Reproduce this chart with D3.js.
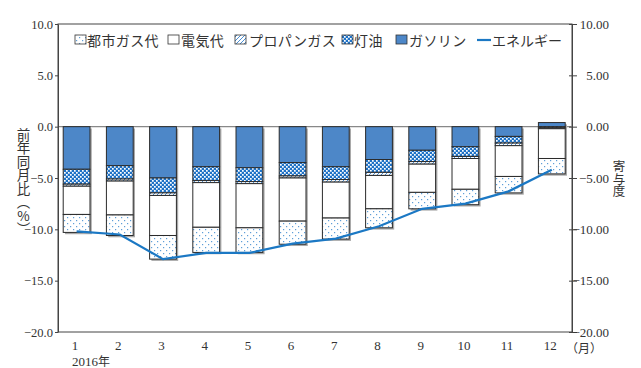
<!DOCTYPE html>
<html>
<head>
<meta charset="utf-8">
<script src="https://cdn.jsdelivr.net/npm/d3@7"></script>
<style>
  html, body { margin: 0; padding: 0; background: #fff; }
  svg { display: block; }
  .num { font-family: "Liberation Serif", "DejaVu Serif", serif; fill: #333; }
  .jp { font-family: "Noto Sans CJK JP", sans-serif; fill: #333; }
  .vert { writing-mode: vertical-rl; text-orientation: upright; }
</style>
</head>
<body>
<svg id="chart" width="641" height="368"></svg>
<script>
// Months (2016)
const months = ["1","2","3","4","5","6","7","8","9","10","11","12"];

// Contributions by item (percentage points)
const gasoline    = [-4.15, -3.8, -5.0, -3.9, -4.0, -3.5, -3.9, -3.2, -2.3, -1.95, -0.95, 0.4];
const kerosene    = [-1.45, -1.3, -1.45, -1.35, -1.35, -1.3, -1.25, -1.25, -1.1, -0.95, -0.65, -0.1];
const propane     = [-0.2, -0.2, -0.25, -0.2, -0.2, -0.2, -0.25, -0.3, -0.25, -0.2, -0.25, -0.1];
const electricity = [-2.75, -3.3, -3.9, -4.35, -4.3, -4.2, -3.5, -3.25, -2.75, -3.0, -3.0, -2.9];
const cityGas     = [-1.75, -2.0, -2.3, -2.45, -2.4, -2.25, -2.05, -1.85, -1.6, -1.5, -1.6, -1.5];

// Energy total (year-on-year %)
const energy = [-10.2, -10.5, -12.9, -12.3, -12.3, -11.4, -10.9, -9.7, -8.0, -7.5, -6.3, -4.2];

// Axis ticks
const leftTicks  = [10, 5, 0, -5, -10, -15, -20];
const rightTicks = [10, 5, 0, -5, -10, -15, -20];

// Series names (stack order: nearest zero first)
const seriesKeys  = ["gasoline", "kerosene", "propane", "electricity", "cityGas"];
const seriesNames = { cityGas: "都市ガス代", electricity: "電気代", propane: "プロパンガス",
                      kerosene: "灯油", gasoline: "ガソリン" };
const lineName = "エネルギー";

const rows = months.map((m, i) => ({
  month: m,
  gasoline: gasoline[i], kerosene: kerosene[i], propane: propane[i],
  electricity: electricity[i], cityGas: cityGas[i]
}));

const svg = d3.select("#chart");
const plot = { left: 58, right: 572, top: 24, bottom: 332 };

// Patterns
const defs = svg.append("defs");
const dots = defs.append("pattern").attr("id", "p-citygas")
  .attr("patternUnits", "userSpaceOnUse").attr("width", 6).attr("height", 6);
dots.append("rect").attr("width", 6).attr("height", 6).attr("fill", "#fff");
dots.append("rect").attr("x", 1).attr("y", 1).attr("width", 1.2).attr("height", 1.2).attr("fill", "#5e9ed8");
dots.append("rect").attr("x", 4).attr("y", 4).attr("width", 1.2).attr("height", 1.2).attr("fill", "#5e9ed8");

const hatch = defs.append("pattern").attr("id", "p-propane")
  .attr("patternUnits", "userSpaceOnUse").attr("width", 4).attr("height", 4);
hatch.append("rect").attr("width", 4).attr("height", 4).attr("fill", "#fff");
hatch.append("path").attr("d", "M-1,1 l2,-2 M0,4 l4,-4 M3,5 l2,-2")
  .attr("stroke", "#4a8fd4").attr("stroke-width", 1);

const checker = defs.append("pattern").attr("id", "p-kerosene")
  .attr("patternUnits", "userSpaceOnUse").attr("width", 4).attr("height", 4);
checker.append("rect").attr("width", 4).attr("height", 4).attr("fill", "#1f72c6");
checker.append("rect").attr("x", 0).attr("y", 0).attr("width", 1.7).attr("height", 1.7).attr("fill", "#fff");
checker.append("rect").attr("x", 2).attr("y", 2).attr("width", 1.7).attr("height", 1.7).attr("fill", "#fff");

const fills = {
  cityGas: "url(#p-citygas)",
  electricity: "#ffffff",
  propane: "url(#p-propane)",
  kerosene: "url(#p-kerosene)",
  gasoline: "#4d87c8"
};

// Scales
const x = d3.scaleBand().domain(months).range([55, 573.4])
  .paddingInner(0.38).paddingOuter(0.19);
const y = d3.scaleLinear().domain([-20, 10]).range([plot.bottom, plot.top]);

// Frame
svg.append("rect")
  .attr("x", plot.left).attr("y", plot.top)
  .attr("width", plot.right - plot.left).attr("height", plot.bottom - plot.top)
  .attr("fill", "none").attr("stroke", "#444").attr("stroke-width", 1);

// Zero line
svg.append("line")
  .attr("x1", plot.left).attr("x2", plot.right)
  .attr("y1", y(0)).attr("y2", y(0))
  .attr("stroke", "#888").attr("stroke-width", 1.2);

// Stacked bars
const stacked = d3.stack().keys(seriesKeys).offset(d3.stackOffsetDiverging)(rows);

// Drop shadow behind each bar
const extent = rows.map((r, i) => {
  const vals = stacked.flatMap(s => [s[i][0], s[i][1]]);
  return { month: r.month, lo: d3.min(vals), hi: d3.max(vals) };
});
svg.append("g").selectAll("rect").data(extent).join("rect")
  .attr("x", d => x(d.month) + 1.8)
  .attr("y", d => y(d.hi) + 1.8)
  .attr("width", x.bandwidth())
  .attr("height", d => y(d.lo) - y(d.hi))
  .attr("fill", "#a9a9a9");

svg.append("g").selectAll("g").data(stacked).join("g")
  .attr("fill", s => fills[s.key])
  .selectAll("rect").data(s => s).join("rect")
  .attr("x", d => x(d.data.month))
  .attr("y", d => y(Math.max(d[0], d[1])))
  .attr("width", x.bandwidth())
  .attr("height", d => Math.abs(y(d[0]) - y(d[1])))
  .attr("stroke", "#2b2b2b").attr("stroke-width", 1);

// Energy line
const line = d3.line()
  .x((d, i) => x(months[i]) + x.bandwidth() / 2)
  .y(d => y(d));
svg.append("path").datum(energy)
  .attr("d", line)
  .attr("fill", "none").attr("stroke", "#1b78c4").attr("stroke-width", 2.2);

// Left axis
const gL = svg.append("g").attr("transform", `translate(${plot.left},0)`)
  .call(d3.axisLeft(y).tickValues(leftTicks).tickFormat(d3.format(".1f"))
    .tickSizeInner(3).tickSizeOuter(0).tickPadding(2));
gL.select(".domain").attr("stroke", "#444");
gL.selectAll(".tick line").attr("stroke", "#444");
gL.selectAll("text").attr("class", "num").attr("font-size", 12.5).attr("fill", "#333");

// Right axis
const gR = svg.append("g").attr("transform", `translate(${plot.right},0)`)
  .call(d3.axisRight(y).tickValues(rightTicks).tickFormat(d3.format(".2f"))
    .tickSizeInner(5).tickSizeOuter(0).tickPadding(2));
gR.select(".domain").attr("stroke", "#444");
gR.selectAll(".tick line").attr("stroke", "#444").attr("x1", -3);
gR.selectAll("text").attr("class", "num").attr("font-size", 13).attr("fill", "#333")
  .attr("text-anchor", "end").attr("x", 37);

// Month labels
svg.append("g").selectAll("text").data(months).join("text")
  .attr("class", "num")
  .attr("x", d => x(d) + x.bandwidth() / 2 - 1.5)
  .attr("y", 350)
  .attr("text-anchor", "middle")
  .attr("font-size", 13)
  .text(d => d);
svg.append("text").attr("class", "num").attr("x", 72).attr("y", 366)
  .attr("font-size", 13).text("2016")
  .append("tspan").attr("class", "jp").attr("font-size", 12).text("年");
svg.append("text").attr("class", "jp").attr("x", 566).attr("y", 353)
  .attr("font-size", 12).text("（月）");

// Vertical axis titles
svg.append("text").attr("class", "jp vert")
  .attr("x", 23.5).attr("y", 128)
  .attr("font-size", 13.5)
  .text("前年同月比（%）");

svg.append("text").attr("class", "jp vert")
  .attr("x", 619).attr("y", 160)
  .attr("font-size", 12.5)
  .text("寄与度");

// Legend
const legendItems = [
  { key: "cityGas", sx: 75, tx: 87 },
  { key: "electricity", sx: 168, tx: 181 },
  { key: "propane", sx: 235, tx: 249 },
  { key: "kerosene", sx: 342, tx: 354 },
  { key: "gasoline", sx: 396, tx: 409 }
];
const lg = svg.append("g");
lg.selectAll("rect").data(legendItems).join("rect")
  .attr("x", d => d.sx).attr("y", 35).attr("width", 11).attr("height", 9)
  .attr("fill", d => fills[d.key]).attr("stroke", "#333").attr("stroke-width", 0.8);
lg.selectAll("text").data(legendItems).join("text")
  .attr("class", "jp").attr("x", d => d.tx).attr("y", 45.5)
  .attr("font-size", 14).attr("letter-spacing", 0.4)
  .text(d => seriesNames[d.key]);
lg.append("line").attr("x1", 477).attr("x2", 491).attr("y1", 40).attr("y2", 40)
  .attr("stroke", "#1b78c4").attr("stroke-width", 2.2);
lg.append("text").attr("class", "jp").attr("x", 492).attr("y", 45.5)
  .attr("font-size", 14).text(lineName);
</script>
</body>
</html>
